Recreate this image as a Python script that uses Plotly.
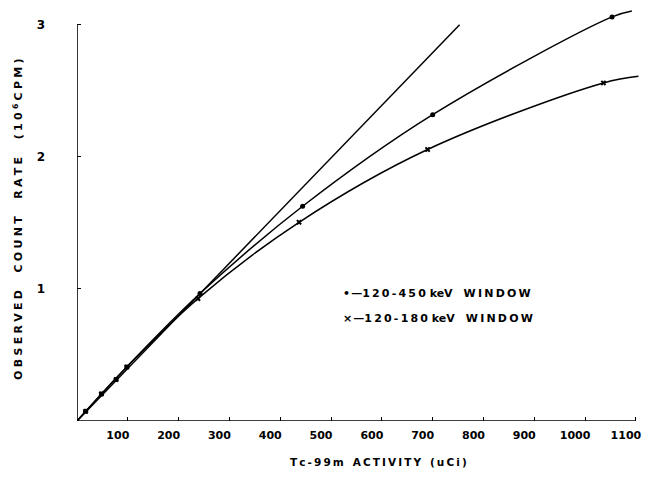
import plotly.graph_objects as go

# ---- data ----
# measured points, 120-450 keV window (dots)
act_450 = [17, 48, 77, 98, 242, 444, 700, 1053]
rate_450 = [0.073, 0.205, 0.314, 0.409, 0.965, 1.626, 2.32, 3.06]
# measured points, 120-180 keV window (crosses)
act_180 = [17, 48, 77, 98, 238, 437, 690, 1036]
rate_180 = [0.073, 0.205, 0.314, 0.409, 0.927, 1.505, 2.056, 2.56]
# drawn curves
curve450_x = [0, 98, 242, 444, 700, 1053, 1092]
curve450_y = [0, 0.409, 0.965, 1.626, 2.32, 3.06, 3.105]
curve180_x = [0, 98, 238, 437, 690, 1036, 1105]
curve180_y = [0, 0.409, 0.927, 1.505, 2.056, 2.56, 2.61]
linear_x = [0, 753]
linear_y = [0, 3.0]

x_ticks = [100, 200, 300, 400, 500, 600, 700, 800, 900, 1000, 1100]
y_ticks = [1, 2, 3]

FONT = "DejaVu Sans"
THIN = "\u2009"
HAIR = "\u200a"
EN = "\u2002"


def spaced(s, sep=THIN):
    out = []
    i = 0
    while i < len(s):
        if s.startswith("<sup>", i):
            j = s.index("</sup>", i) + 6
            out.append(s[i:j])
            i = j
        else:
            out.append(s[i])
            i += 1
    return sep.join(out)


legend_labels = [
    "\u2022" + HAIR + "\u2014" + spaced("120-450") + " keV" + EN + EN + spaced("WINDOW"),
    "\u00d7" + HAIR + "\u2014" + spaced("120-180") + " keV" + EN + EN + spaced("WINDOW"),
]
x_title = spaced("Tc-99m") + EN + " " + spaced("ACTIVITY") + EN + " " + spaced("(uCi)")
y_title = "OBSERVED  COUNT  RATE  (10<sup>6</sup>CPM)"

fig = go.Figure()
line_style = dict(color="black", width=1.5)
fig.add_trace(go.Scatter(x=linear_x, y=linear_y, mode="lines", line=line_style, hoverinfo="skip"))
fig.add_trace(go.Scatter(x=curve450_x, y=curve450_y, mode="lines",
                         line=dict(line_style, shape="spline", smoothing=1.0), hoverinfo="skip"))
fig.add_trace(go.Scatter(x=curve180_x, y=curve180_y, mode="lines",
                         line=dict(line_style, shape="spline", smoothing=1.0), hoverinfo="skip"))
fig.add_trace(go.Scatter(x=act_450, y=rate_450, mode="markers",
                         marker=dict(symbol="circle", size=5, color="black")))
fig.add_trace(go.Scatter(x=act_180, y=rate_180, mode="markers",
                         marker=dict(symbol="x", size=5, color="black")))

# axis lines
fig.add_shape(type="line", xref="x", yref="y", x0=0, y0=0, x1=0, y1=3,
              line=dict(color="black", width=1.6))
fig.add_shape(type="line", xref="x", yref="y", x0=0, y0=0, x1=1100, y1=0,
              line=dict(color="black", width=1.6))

tick_font = dict(family=FONT, size=11, color="black", weight="bold")
fig.update_xaxes(range=[0, 1110], tickvals=x_ticks, ticktext=[str(v) for v in x_ticks],
                 ticks="inside", ticklen=4, tickwidth=1.2, tickcolor="black",
                 showgrid=False, zeroline=False, showline=False, tickfont=tick_font,
                 ticklabelstandoff=6, ticklabelshift=-10)
fig.update_yaxes(range=[0, 3.12], tickvals=y_ticks, ticktext=[str(v) for v in y_ticks],
                 ticks="inside", ticklen=4, tickwidth=1.2, tickcolor="black",
                 showgrid=False, zeroline=False, showline=False,
                 tickfont=dict(tick_font, size=12), ticklabelstandoff=31)

ann_font = dict(family=FONT, size=11, color="black", weight="bold")
# plot area in window pixels: x 77.3..641, y 9..420.7
fig.add_annotation(x=-0.105, y=0.49, xref="paper", yref="paper",
                   text=spaced(y_title, THIN + HAIR),
                   textangle=-90, showarrow=False, font=ann_font,
                   xanchor="center", yanchor="middle")
fig.add_annotation(x=0.535, y=-0.1, xref="paper", yref="paper", text=x_title,
                   showarrow=False, font=dict(ann_font, size=10.5),
                   xanchor="center", yanchor="middle")
fig.add_annotation(x=519, y=0.967, xref="x", yref="y", text=legend_labels[0],
                   showarrow=False, font=ann_font, xanchor="left", yanchor="middle")
fig.add_annotation(x=519, y=0.78, xref="x", yref="y", text=legend_labels[1],
                   showarrow=False, font=ann_font, xanchor="left", yanchor="middle")

# page body has an 8px margin; compensate so the plot area sits where it does in the reference
fig.update_layout(width=650, height=485, margin=dict(l=69, r=17, t=1, b=72),
                  paper_bgcolor="white", plot_bgcolor="white", showlegend=False)

fig.write_html("out.html")
